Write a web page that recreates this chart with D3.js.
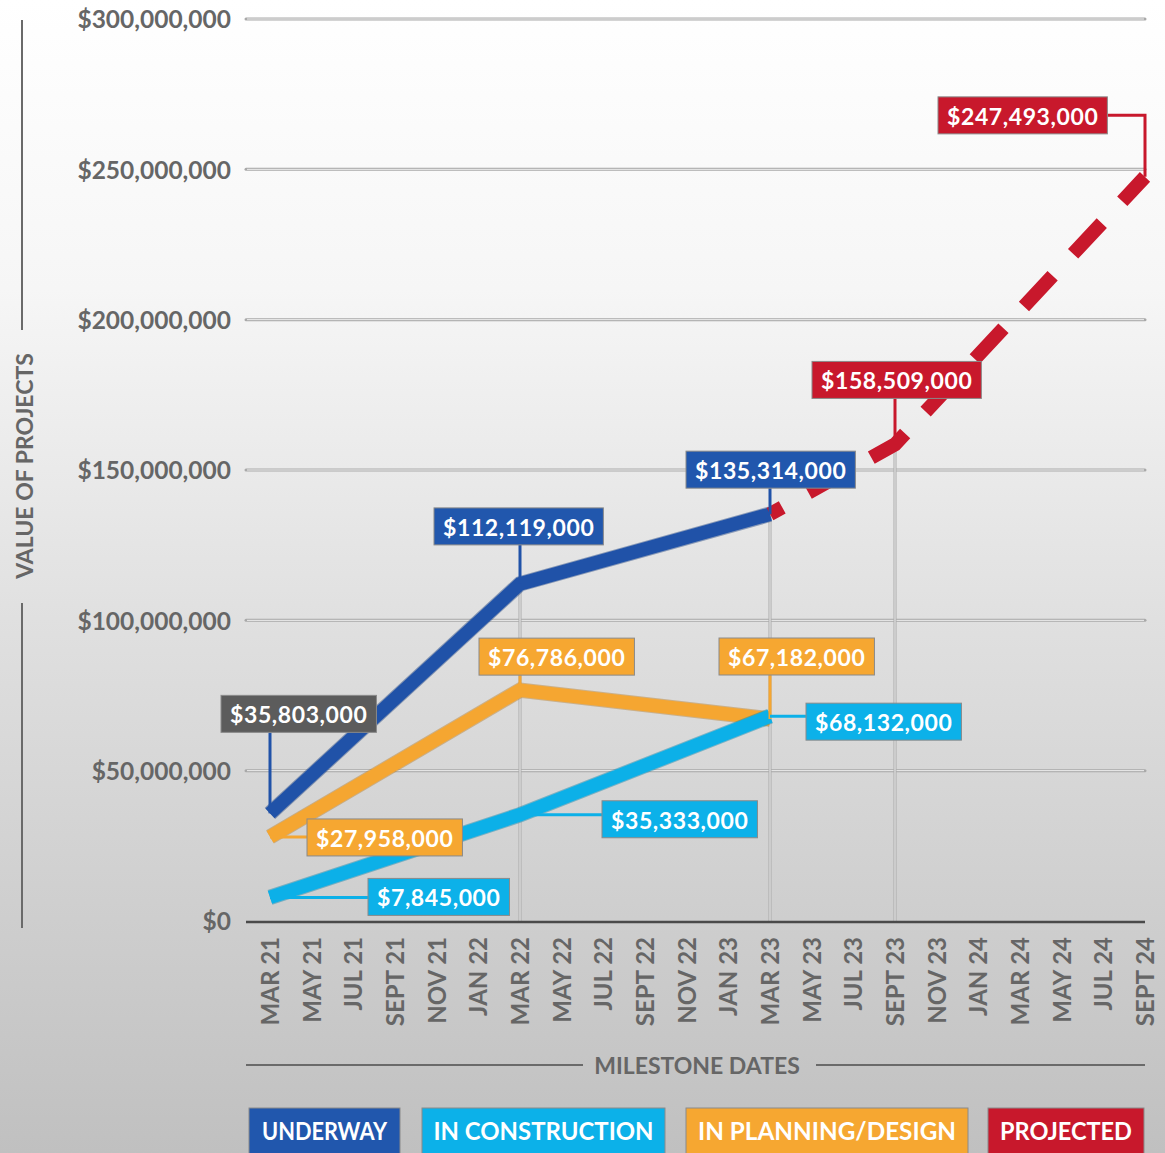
<!DOCTYPE html>
<html>
<head>
<meta charset="utf-8">
<script src="https://cdn.jsdelivr.net/npm/d3@7"></script>
<style>
  html, body { margin: 0; padding: 0; background: #fff; }
  svg { display: block; }
  text { font-family: Lato, "Open Sans", sans-serif; font-weight: 700; }
</style>
</head>
<body>
<svg id="chart" width="1165" height="1153"></svg>
<script>
// ---------- DATA ----------
const categories = ["MAR 21","MAY 21","JUL 21","SEPT 21","NOV 21","JAN 22","MAR 22","MAY 22","JUL 22","SEPT 22","NOV 22","JAN 23","MAR 23","MAY 23","JUL 23","SEPT 23","NOV 23","JAN 24","MAR 24","MAY 24","JUL 24","SEPT 24"];
const yTicks = [0, 50000000, 100000000, 150000000, 200000000, 250000000, 300000000];

const underwayDates = ["MAR 21","MAR 22","MAR 23"];
const underwayValues = [35803000, 112119000, 135314000];

const constructionDates = ["MAR 21","MAR 22","MAR 23"];
const constructionValues = [7845000, 35333000, 68132000];

const planningDates = ["MAR 21","MAR 22","MAR 23"];
const planningValues = [27958000, 76786000, 67182000];

const projectedDates = ["MAR 23","SEPT 23","SEPT 24"];
const projectedValues = [135314000, 158509000, 247493000];

const legendLabels = ["UNDERWAY","IN CONSTRUCTION","IN PLANNING/DESIGN","PROJECTED"];

// ---------- STYLE / LAYOUT ----------
const colors = {
  underway: "#2052a8",
  construction: "#0cb0e8",
  planning: "#f5a631",
  projected: "#c8182c"
};
const boxColors = {
  underway: "#2157ad",
  construction: "#0cb1e9",
  planning: "#f6a731",
  projected: "#c8182c",
  gray: "#5c5c5c"
};

const svg = d3.select("#chart");
const W = 1165, H = 1153;

// background gradient
const defs = svg.append("defs");
const grad = defs.append("linearGradient").attr("id","bg").attr("x1",0).attr("y1",0).attr("x2",0).attr("y2",1);
grad.append("stop").attr("offset","0%").attr("stop-color","#ffffff");
grad.append("stop").attr("offset","25%").attr("stop-color","#f6f6f6");
grad.append("stop").attr("offset","55%").attr("stop-color","#dfdfdf");
grad.append("stop").attr("offset","100%").attr("stop-color","#c0c0c0");
svg.append("rect").attr("width",W).attr("height",H).attr("fill","url(#bg)");

const x = d3.scalePoint().domain(categories).range([270, 1145]);
const y = d3.scaleLinear().domain([0, 300000000]).range([921, 19]);
const plotLeft = 246, plotRight = 1145;

// horizontal gridlines
const fmt = v => "$" + d3.format(",")(v);
const gridG = svg.append("g");
yTicks.filter(t => t > 0).forEach(t => {
  gridG.append("line").attr("x1", plotLeft).attr("x2", plotRight).attr("y1", y(t)).attr("y2", y(t))
    .attr("stroke", "#a9a9a9").attr("stroke-width", 3).attr("stroke-linecap","round");
  gridG.append("line").attr("x1", plotLeft+1).attr("x2", plotRight-1).attr("y1", y(t)).attr("y2", y(t))
    .attr("stroke", "#efefef").attr("stroke-width", 1);
});

// y tick labels via axis
const yAxis = d3.axisLeft(y).tickValues(yTicks).tickFormat(fmt).tickSize(0).tickPadding(0);
const yAxisG = svg.append("g").attr("transform", "translate(231,0)").call(yAxis);
yAxisG.select(".domain").remove();
yAxisG.selectAll("text").attr("fill", "#666").style("font-size","24.5px").style("font-family","Lato, sans-serif").style("font-weight","700").attr("dy","0.36em");

// vertical gridlines at data-point categories (from topmost value down)
const allSeries = [
  {key:"planning", dates: planningDates, values: planningValues},
  {key:"construction", dates: constructionDates, values: constructionValues},
  {key:"underway", dates: underwayDates, values: underwayValues},
  {key:"projected", dates: projectedDates, values: projectedValues}
];
const topAt = {};
allSeries.forEach(s => s.dates.forEach((d,i) => { topAt[d] = Math.max(topAt[d] || 0, s.values[i]); }));
["MAR 22","MAR 23","SEPT 23"].forEach(d => {
  gridG.append("line").attr("x1", x(d)).attr("x2", x(d)).attr("y1", y(topAt[d])).attr("y2", y(0))
    .attr("stroke", "#a9a9a9").attr("stroke-width", 3);
  gridG.append("line").attr("x1", x(d)).attr("x2", x(d)).attr("y1", y(topAt[d])).attr("y2", y(0))
    .attr("stroke", "#efefef").attr("stroke-width", 1);
});

// x axis
const xAxis = d3.axisBottom(x).tickSize(0).tickPadding(0);
const xAxisG = svg.append("g").attr("transform", `translate(0,${y(0)})`).call(xAxis);
xAxisG.select(".domain").remove();
svg.append("line").attr("x1", plotLeft).attr("x2", plotRight).attr("y1", y(0)+1).attr("y2", y(0)+1)
  .attr("stroke", "#4a4a4a").attr("stroke-width", 2.5);
xAxisG.selectAll("text")
  .attr("transform", "translate(0,16) rotate(-90)")
  .attr("text-anchor", "end")
  .attr("x", 0).attr("y", 0).attr("dy", "0.36em")
  .attr("fill", "#666")
  .style("font-size","24px").style("font-family","Lato, sans-serif").style("font-weight","700");

// y axis title with lines
svg.append("line").attr("x1",22).attr("x2",22).attr("y1",20).attr("y2",330).attr("stroke","#6a6a6a").attr("stroke-width",2);
svg.append("line").attr("x1",22).attr("x2",22).attr("y1",603).attr("y2",928).attr("stroke","#6a6a6a").attr("stroke-width",2);
svg.append("text").attr("transform","translate(25,466) rotate(-90)").attr("text-anchor","middle").attr("dy","0.36em")
  .attr("fill","#666").style("font-size","23px").text("VALUE OF PROJECTS");

// x axis title with lines
svg.append("line").attr("x1",plotLeft).attr("x2",583).attr("y1",1065).attr("y2",1065).attr("stroke","#6a6a6a").attr("stroke-width",2);
svg.append("line").attr("x1",816).attr("x2",plotRight).attr("y1",1065).attr("y2",1065).attr("stroke","#6a6a6a").attr("stroke-width",2);
svg.append("text").attr("x",697).attr("y",1066).attr("text-anchor","middle").attr("dy","0.36em")
  .attr("fill","#666").style("font-size","23px").text("MILESTONE DATES");

// ---------- LINES ----------
const line = d3.line().x(d => x(d.date)).y(d => y(d.value)).curve(d3.curveLinear);
const toPts = s => s.dates.map((d,i) => ({date:d, value:s.values[i]}));
const linesG = svg.append("g");
["planning","underway","construction"].forEach(k => {
  const s = allSeries.find(a => a.key === k);
  const c = colors[k];
  linesG.append("path").datum(toPts(s)).attr("d", line).attr("fill","none")
    .attr("stroke", d3.color(c).darker(0.8)).attr("stroke-opacity",0.45).attr("stroke-width", 15.5).attr("stroke-linejoin","miter");
  linesG.append("path").datum(toPts(s)).attr("d", line).attr("fill","none")
    .attr("stroke", c).attr("stroke-width", 13.5).attr("stroke-linejoin","miter");
});
const proj = allSeries.find(a => a.key === "projected");
linesG.append("path").datum(toPts(proj)).attr("d", line).attr("fill","none")
  .attr("stroke", colors.projected).attr("stroke-width", 14).attr("stroke-dasharray","42,30")
  .attr("stroke-dashoffset", 28)
  .attr("stroke-linejoin","miter");

// ---------- ANNOTATIONS ----------
// label placement (box offset from the data point, in px) and leader style
const annots = [
  {key:"underway", date:"MAR 21", value:underwayValues[0], box:"gray", dx:-49, dy:-118, leader:"v"},
  {key:"planning", date:"MAR 21", value:planningValues[0], box:"planning", dx:37, dy:-18, leader:"h"},
  {key:"construction", date:"MAR 21", value:constructionValues[0], box:"construction", dx:98, dy:-19, leader:"h"},
  {key:"underway", date:"MAR 22", value:underwayValues[1], box:"underway", dx:-86, dy:-76, leader:"v"},
  {key:"planning", date:"MAR 22", value:planningValues[1], box:"planning", dx:-41, dy:-52, leader:"v"},
  {key:"construction", date:"MAR 22", value:constructionValues[1], box:"construction", dx:82, dy:-14, leader:"h"},
  {key:"underway", date:"MAR 23", value:underwayValues[2], box:"underway", dx:-84, dy:-63, leader:"v"},
  {key:"planning", date:"MAR 23", value:planningValues[2], box:"planning", dx:-51, dy:-81, leader:"v"},
  {key:"construction", date:"MAR 23", value:constructionValues[2], box:"construction", dx:36, dy:-13, leader:"h"},
  {key:"projected", date:"SEPT 23", value:projectedValues[1], box:"projected", dx:-83, dy:-83, leader:"v"},
  {key:"projected", date:"SEPT 24", value:projectedValues[2], box:"projected", dx:-207, dy:-80, leader:"elbow"}
];
const boxH = 37, padX = 9;
const annG = svg.append("g");
annots.forEach(a => {
  const px = x(a.date), py = y(a.value);
  const g = annG.append("g");
  const leaderG = g.append("g");
  const rect = g.append("rect");
  const t = g.append("text").attr("fill","#fff").style("font-size","23px").style("letter-spacing","0.6px")
    .attr("dy","0.36em").text(fmt(a.value));
  const tw = t.node().getComputedTextLength();
  const bw = tw + padX*2;
  const bx = px + a.dx, by = py + a.dy;
  rect.attr("x",bx).attr("y",by).attr("width",bw).attr("height",boxH).attr("fill",boxColors[a.box])
    .attr("stroke","#8a8a8a").attr("stroke-width",1);
  t.attr("x", bx + padX).attr("y", by + boxH/2 + 1);
  const lc = colors[a.key];
  if (a.leader === "v") {
    leaderG.append("line").attr("x1",px).attr("x2",px).attr("y1",by+boxH).attr("y2",py)
      .attr("stroke",lc).attr("stroke-width",3);
  } else if (a.leader === "h") {
    leaderG.append("line").attr("x1",px).attr("x2",bx).attr("y1",py).attr("y2",py)
      .attr("stroke",lc).attr("stroke-width",3);
  } else {
    leaderG.append("polyline").attr("points", `${bx+bw},${by+boxH/2} ${px},${by+boxH/2} ${px},${py}`)
      .attr("fill","none").attr("stroke",lc).attr("stroke-width",3);
  }
});

// ---------- LEGEND ----------
const legendKeys = ["underway","construction","planning","projected"];
const legendX = [249, 422, 686, 988];
const legendW = [151, 243, 282, 156];
const legendTextW = [125, 220, 258, 132];
const legG = svg.append("g");
legendLabels.forEach((lab,i) => {
  const g = legG.append("g");
  g.append("rect").attr("x",legendX[i]).attr("y",1108).attr("width",legendW[i]).attr("height",50)
    .attr("fill",boxColors[legendKeys[i]]).attr("stroke","#8a8a8a").attr("stroke-width",1);
  g.append("text").attr("fill","#fff").style("font-size","24px")
    .attr("x", legendX[i] + legendW[i]/2).attr("y", 1131).attr("dy","0.36em").attr("text-anchor","middle")
    .attr("textLength", legendTextW[i]).attr("lengthAdjust","spacingAndGlyphs")
    .text(lab);
});
</script>
</body>
</html>
